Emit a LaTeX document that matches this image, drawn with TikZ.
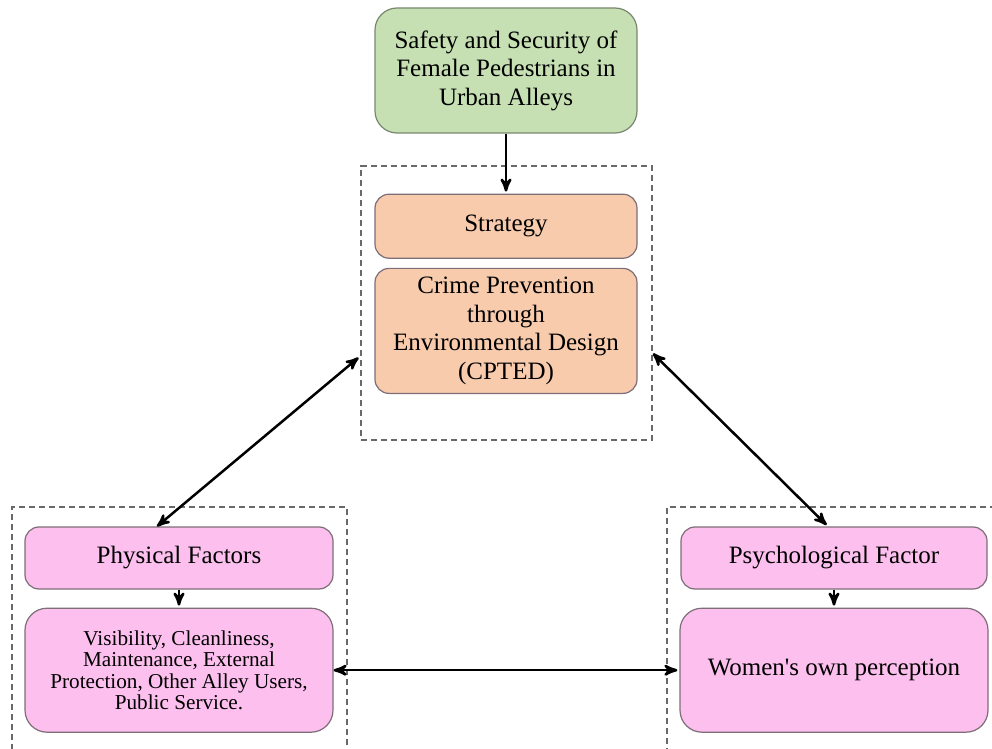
\documentclass[tikz,border=0pt]{standalone}
\usepackage{fontspec}
\setmainfont{Liberation Serif}
\usetikzlibrary{arrows,positioning}

\definecolor{goalgreen}{RGB}{198,224,180}
\definecolor{goalline}{RGB}{120,135,110}
\definecolor{planorange}{RGB}{248,203,173}
\definecolor{factorpink}{RGB}{252,191,238}
\definecolor{boxline}{RGB}{125,110,120}
\definecolor{dashgray}{RGB}{105,105,105}

\begin{document}
\begin{tikzpicture}[x=0.5pt,y=-0.5pt,->,>=stealth',shorten >=1pt,line width=1.25pt]
\tikzstyle{every node}=[align=center,inner sep=2pt,line width=0.6pt,font=\fontsize{12.5}{14.2}\selectfont]
\tikzstyle{goal}=[draw=goalline,fill=goalgreen,rounded corners=11pt,minimum width=131pt]
\tikzstyle{plan}=[draw=boxline,fill=planorange,rounded corners=7pt,minimum width=131pt]
\tikzstyle{factor}=[draw=boxline,fill=factorpink,minimum width=154pt]
\tikzstyle{group}=[draw=dashgray,dash pattern=on 3.2pt off 1.8pt,line width=1pt]
\clip (0,0) rectangle (992,749);
% dashed groups
\node[group,minimum width=145.5pt,minimum height=137pt] (mid) at (506.5,303) {};
\node[group,minimum width=167.5pt,minimum height=126.5pt] (leftgrp) at (179.5,633.5) {};
\node[group,minimum width=169pt,minimum height=126.5pt] (rightgrp) at (836,633.5) {};
% boxes
\node[goal,minimum height=62.5pt] (safety) at (506,70.5) {Safety and Security of\\Female Pedestrians in\\Urban Alleys};
\node[plan,minimum height=32pt] (strat) [below=30pt of safety] {Strategy};
\node[plan,minimum height=62.5pt] (cpted) [below=4.5pt of strat] {Crime Prevention\\through\\Environmental Design\\(CPTED)};
\node[factor,rounded corners=7pt,minimum height=31pt] (phys) at (179,558) {Physical Factors};
\node[factor,rounded corners=11pt,minimum height=62pt,font=\fontsize{10.6}{10.8}\selectfont] (vis) [below=9pt of phys] {Visibility, Cleanliness,\\Maintenance, External\\Protection, Other Alley Users,\\Public Service.};
\node[factor,rounded corners=7pt,minimum width=153pt,minimum height=31pt] (psych) at (834,558) {Psychological Factor};
\node[factor,rounded corners=11pt,minimum height=62pt] (women) [below=9pt of psych] {Women\textquotesingle s own perception};
\path (safety) edge (strat)
	(phys) edge (vis)
	(psych) edge (women)
	([xshift=-11pt]phys.north) edge[<->] (mid.200)
	(mid.-19) edge[<->] ([xshift=-3pt]psych.north)
	(vis) edge[<->] (women);

\end{tikzpicture}
\end{document}
